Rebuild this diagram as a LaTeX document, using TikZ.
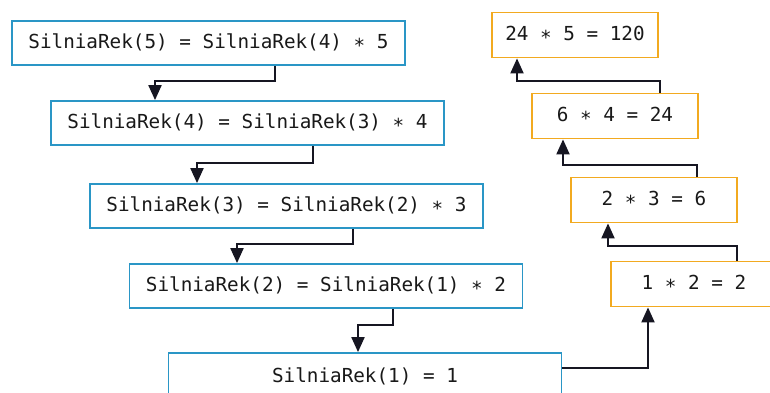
\documentclass[tikz,border=0pt]{standalone}
\usepackage{fontspec}
\setmonofont{DejaVu Sans Mono}
\usetikzlibrary{arrows.meta}
\definecolor{bluebd}{RGB}{42,150,198}
\definecolor{orangebd}{RGB}{242,170,32}
\definecolor{arrcol}{RGB}{22,22,34}
\definecolor{txtcol}{RGB}{25,25,25}
\newcommand{\st}{\raisebox{-0.22em}{*}}
\begin{document}
\begin{tikzpicture}[x=1pt,y=-1pt,
  every node/.style={font=\ttfamily\fontsize{19.3}{23}\selectfont, text=txtcol},
  bluebox/.style={draw=bluebd, line width=1.8pt, fill=white, inner sep=0pt, minimum width=393pt, minimum height=44pt},
  orbox/.style={draw=orangebd, line width=1.8pt, fill=white, inner sep=0pt, minimum width=166pt, minimum height=45pt},
  arr/.style={draw=arrcol, line width=2pt, -{Triangle[length=15pt,width=13pt]}}]
\clip (0,0) rectangle (770,393);
\fill[white] (0,0) rectangle (770,393);
% blue boxes
\node[bluebox] (b1) at (208.5,43) {SilniaRek(5) = SilniaRek(4) \st{} 5};
\node[bluebox] (b2) at (247.5,123) {SilniaRek(4) = SilniaRek(3) \st{} 4};
\node[bluebox] (b3) at (286.5,206) {SilniaRek(3) = SilniaRek(2) \st{} 3};
\node[bluebox] (b4) at (326,286) {SilniaRek(2) = SilniaRek(1) \st{} 2};
\node[bluebox, minimum height=46pt] (b5) at (365,376) {SilniaRek(1) = 1};
% orange boxes
\node[orbox] (o1) at (575,35) {24 \st{} 5 = 120};
\node[orbox] (o2) at (615,116) {6 \st{} 4 = 24};
\node[orbox] (o3) at (654,200) {2 \st{} 3 = 6};
\node[orbox] (o4) at (694,284) {1 \st{} 2 = 2};
% down arrows
\draw[arr] (b1.south -| 275,0) -- (275,81) -| (b2.north -| 155,0);
\draw[arr] (b2.south -| 313,0) -- (313,163) -| (b3.north -| 197,0);
\draw[arr] (b3.south -| 353,0) -- (353,244) -| (b4.north -| 237,0);
\draw[arr] (b4.south -| 393,0) -- (393,325) -| (b5.north -| 358,0);
% up arrows
\draw[arr] (b5.east |- 0,368) -| (o4.south -| 648,0);
\draw[arr] (o4.north -| 737,0) -- (737,246) -| (o3.south -| 608,0);
\draw[arr] (o3.north -| 697,0) -- (697,165) -| (o2.south -| 563,0);
\draw[arr] (o2.north -| 660,0) -- (660,81) -| (o1.south -| 517,0);
\end{tikzpicture}
\end{document}
